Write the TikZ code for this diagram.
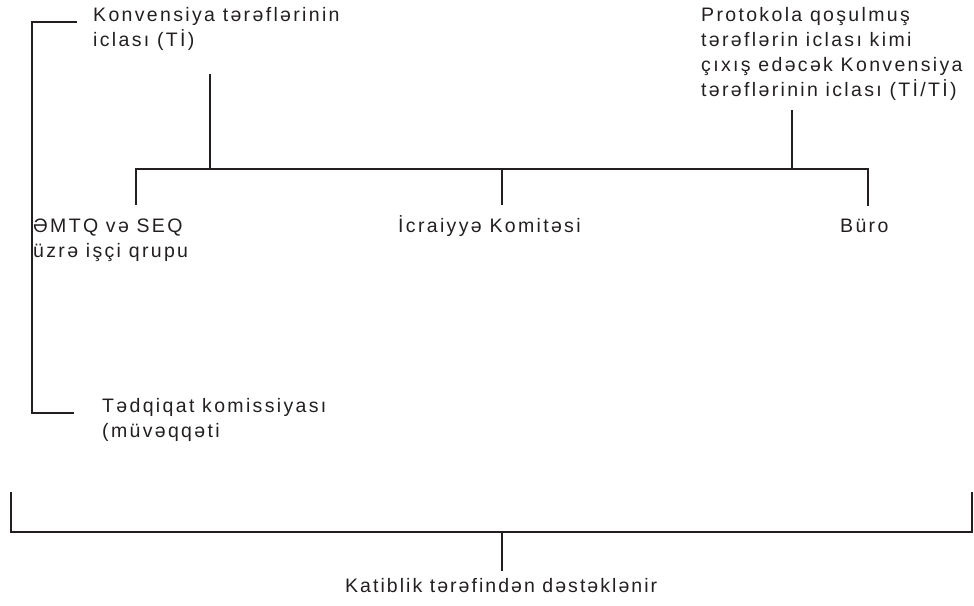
\documentclass[tikz,border=0pt]{standalone}
\usepackage{fontspec}
\setmainfont{Liberation Sans}[LetterSpace=12]
\begin{document}
\begin{tikzpicture}[x=1pt,y=-1pt,
  lbl/.style={anchor=base west,inner sep=0pt,align=left,
    font=\fontsize{19.5}{25}\selectfont,text=txtc},
  conn/.style={draw=linec,line width=2.4pt,line cap=rect}]
\definecolor{linec}{HTML}{231F20}
\definecolor{txtc}{HTML}{231F20}
\useasboundingbox (0,0) rectangle (974,605);
% text nodes (base anchor = baseline of last line)
\node[lbl] (ti) at (93,46) {Konvensiya tərəflərinin\\iclası (Tİ)};
\node[lbl] (titi) at (701,96) {Protokola qoşulmuş\\tərəflərin iclası kimi\\çıxış edəcək Konvensiya\\tərəflərinin iclası (Tİ/Tİ)};
\node[lbl] (emtq) at (33,257) {ƏMTQ və SEQ\\üzrə işçi qrupu};
\node[lbl] (icra) at (398,232) {İcraiyyə Komitəsi};
\node[lbl] (buro) at (840,232) {Büro};
\node[lbl] (tedq) at (102,437) {Tədqiqat komissiyası\\(müvəqqəti};
\node[lbl,font=\fontsize{19.5}{25}\selectfont\addfontfeature{LetterSpace=10.5}] (katib) at (345,592) {Katiblik tərəfindən dəstəklənir};
% joints
\coordinate (tiA) at (210,75);
\coordinate (tiB) at (210,169);
\coordinate (titiA) at (792,111);
\coordinate (titiB) at (792,169);
\coordinate (barL) at (136,169);
\coordinate (barR) at (868,169);
\coordinate (emtqA) at (136,204);
\coordinate (icraA) at (502,169);
\coordinate (icraB) at (502,204);
\coordinate (buroA) at (868,205);
\coordinate (brTop) at (76,22);
\coordinate (brTL) at (32,22);
\coordinate (brBL) at (32,413);
\coordinate (brBot) at (73,413);
\coordinate (sbL) at (11,493);
\coordinate (sbLB) at (11,532);
\coordinate (sbRB) at (972,532);
\coordinate (sbR) at (972,493);
\coordinate (katA) at (502,532);
\coordinate (katB) at (502,570);
% connectors
\draw[conn] (tiA) -- (tiB);
\draw[conn] (titiA) -- (titiB);
\draw[conn] (emtqA) -- (barL) -- (barR) -- (buroA);
\draw[conn] (icraA) -- (icraB);
\draw[conn] (brTop) -- (brTL) -- (brBL) -- (brBot);
\draw[conn] (sbL) -- (sbLB) -- (sbRB) -- (sbR);
\draw[conn] (katA) -- (katB);
\end{tikzpicture}
\end{document}
